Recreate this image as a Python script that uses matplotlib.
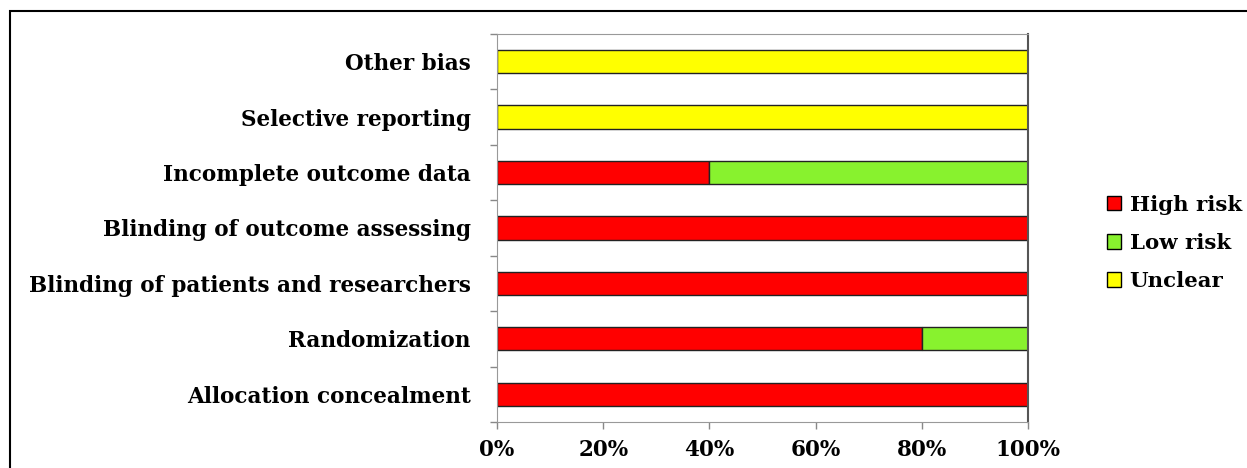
import matplotlib.pyplot as plt
from matplotlib.patches import Rectangle, Patch
import numpy as np

categories = ["Allocation concealment", "Randomization",
              "Blinding of patients and researchers",
              "Blinding of outcome assessing", "Incomplete outcome data",
              "Selective reporting", "Other bias"]
high_risk = [100, 80, 100, 100, 40, 0, 0]
low_risk = [0, 20, 0, 0, 60, 0, 0]
unclear = [0, 0, 0, 0, 0, 100, 100]
series_names = ["High risk", "Low risk", "Unclear"]
colors = ["#ff0000", "#88f22e", "#ffff00"]
xtick_labels = ["0%", "20%", "40%", "60%", "80%", "100%"]

plt.rcParams['font.family'] = ['DejaVu Serif']
fig = plt.figure(figsize=(12.47, 4.68), dpi=100)
ax = fig.add_axes([0.3986, 0.0983, 0.4258, 0.8291])

y = np.arange(len(categories))
left = np.zeros(len(categories))
handles = []
for vals, name, c in zip([high_risk, low_risk, unclear], series_names, colors):
    vals = np.array(vals)
    ax.barh(y, vals, left=left, height=0.42, color=c, edgecolor="#222222", linewidth=1)
    left += vals
    handles.append(Patch(facecolor=c, edgecolor="black", linewidth=1))

ax.set_xlim(0, 100)
ax.set_ylim(-0.5, len(categories) - 0.5)
ax.set_xticks(np.arange(0, 101, 20))
ax.set_xticklabels(xtick_labels, fontsize=15.5, fontweight="bold")
ax.set_yticks(y)
ax.set_yticklabels(categories, fontsize=15.5, fontweight="bold")
ax.tick_params(axis="y", length=0, pad=19)
ax.set_yticks(np.arange(-0.5, len(categories), 1), minor=True)
ax.tick_params(axis="y", which="minor", length=5, color="#888888", width=1)
ax.tick_params(axis="x", length=5, color="#888888", width=1, pad=7)
for s in ["left", "top", "bottom"]:
    ax.spines[s].set_color("#999999")
ax.spines["right"].set_color("#555555")
ax.spines["right"].set_linewidth(1.5)

fig.legend(handles, series_names, loc="center left", bbox_to_anchor=(0.888, 0.481),
           frameon=False, prop={"weight": "bold", "size": 15.3},
           handlelength=0.65, handleheight=0.65, handletextpad=0.4, labelspacing=0.85,
           borderpad=0, borderaxespad=0)

fig.patches.append(Rectangle((10 / 1247, -0.1), 1.2, 1.1 - 11 / 468, transform=fig.transFigure,
                             fill=False, edgecolor="black", linewidth=1.5))

fig.savefig("out.png", dpi=100)
